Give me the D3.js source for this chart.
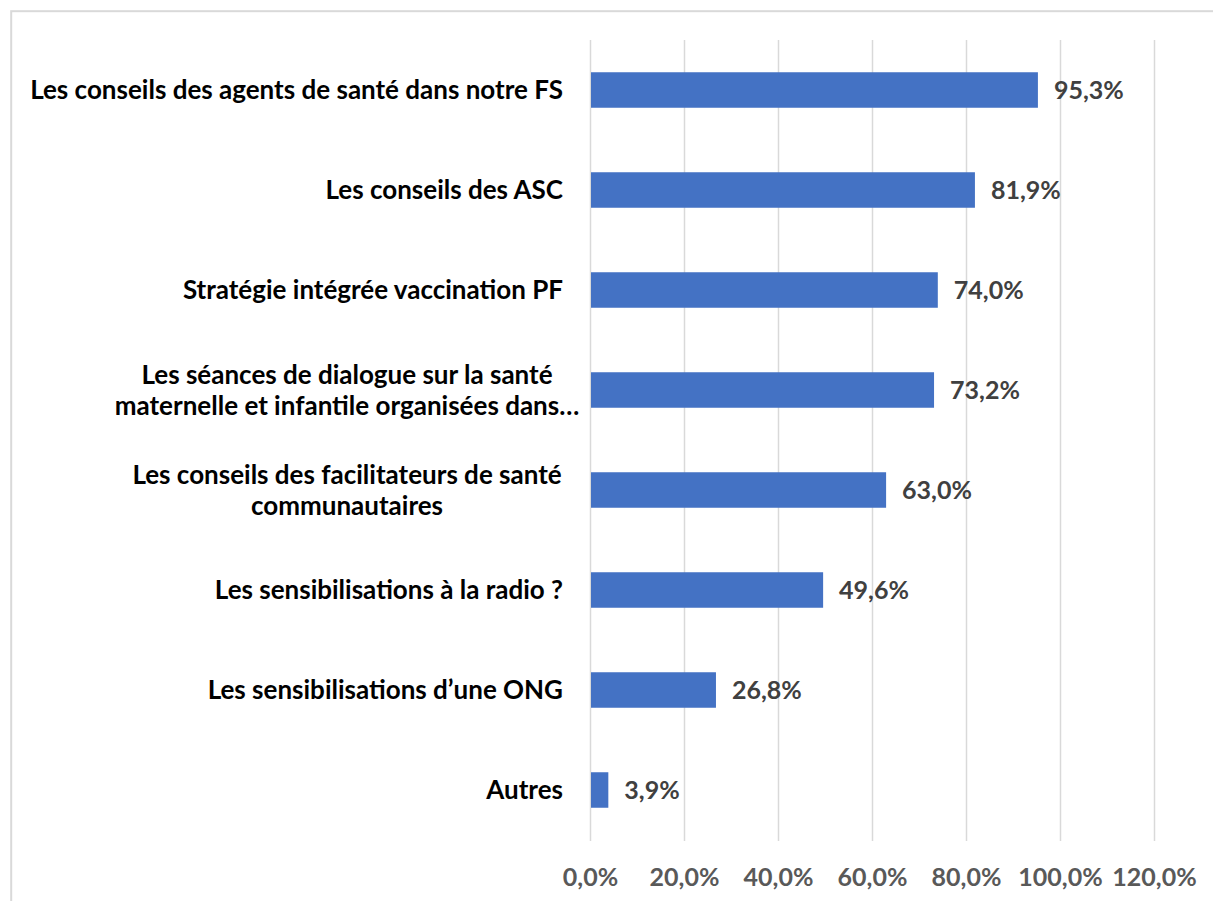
<!DOCTYPE html>
<html>
<head>
<meta charset="utf-8">
<script src="https://cdn.jsdelivr.net/npm/d3@7"></script>
<style>
  body { margin: 0; background: #fff; }
  svg { display: block; font-family: Lato, "Open Sans", sans-serif; }
</style>
</head>
<body>
<script>
// categories (top to bottom) and their percentages
var categories = [
  "Les conseils des agents de santé dans notre FS",
  "Les conseils des ASC",
  "Stratégie intégrée vaccination PF",
  "Les séances de dialogue sur la santé\nmaternelle et infantile organisées dans…",
  "Les conseils des facilitateurs de santé\ncommunautaires",
  "Les sensibilisations à la radio ?",
  "Les sensibilisations d’une ONG",
  "Autres"
];
var values = [95.3, 81.9, 74.0, 73.2, 63.0, 49.6, 26.8, 3.9];
var tickValues = [0, 20, 40, 60, 80, 100, 120];

var W = 1213, H = 901;
var margin = {top: 40, left: 590, right: 59, bottom: 61};
var width = W - margin.left - margin.right;   // 564
var height = H - margin.top - margin.bottom;  // 800
var fontSize = 25, catFontSize = 26;

var fr = d3.formatLocale({decimal: ",", thousands: " ", grouping: [3], currency: ["", " €"]});
var pct = function(d) { return fr.format(".1f")(d) + "%"; };

var svg = d3.select("body").append("svg")
    .attr("width", W)
    .attr("height", H);

// chart frame
svg.append("rect")
    .attr("x", 11.2).attr("y", 11.2)
    .attr("width", W + 20).attr("height", H + 20)
    .attr("fill", "none")
    .attr("stroke", "#d9d9d9")
    .attr("stroke-width", 2);

var g = svg.append("g")
    .attr("transform", "translate(" + margin.left + "," + margin.top + ")");

var xScale = d3.scaleLinear().domain([0, 120]).range([0, width]);
var yScale = d3.scaleBand().domain(categories).range([0, height])
    .paddingInner(0.645).paddingOuter(0.3225);

// vertical gridlines
var grid = g.append("g")
    .attr("class", "grid")
    .attr("transform", "translate(0," + (height + 1) + ")")
    .call(d3.axisBottom(xScale).tickValues(tickValues).tickSize(-(height + 1)).tickFormat(""));
grid.select(".domain").remove();
grid.selectAll("line").attr("stroke", "#d9d9d9").attr("stroke-width", 1.5);

// x axis labels
var xAxis = g.append("g")
    .attr("transform", "translate(0," + height + ")")
    .call(d3.axisBottom(xScale).tickValues(tickValues).tickSize(0).tickPadding(0).tickFormat(pct));
xAxis.select(".domain").remove();
xAxis.selectAll("text")
    .attr("y", 37 + fontSize * 0.36)
    .attr("dy", null)
    .attr("fill", "#595959")
    .style("font-size", fontSize + "px")
    .style("font-weight", "bold")
    .style("font-family", "Lato, sans-serif");

// bars
g.selectAll(".bar")
    .data(values)
  .enter().append("rect")
    .attr("class", "bar")
    .attr("x", xScale(0) + 1)
    .attr("y", function(d, i) { return yScale(categories[i]); })
    .attr("width", function(d) { return xScale(d) - xScale(0) - 1; })
    .attr("height", yScale.bandwidth())
    .attr("fill", "#4472c4");

// value labels
g.selectAll(".val")
    .data(values)
  .enter().append("text")
    .attr("class", "val")
    .attr("x", function(d) { return xScale(d) + 16; })
    .attr("y", function(d, i) { return yScale(categories[i]) + yScale.bandwidth() / 2 + fontSize * 0.36; })
    .attr("fill", "#404040")
    .style("font-size", fontSize + "px")
    .style("font-weight", "bold")
    .text(pct);

// category labels
var labelRight = -27, labelCenter = -243, lineH = 31;
g.selectAll(".cat")
    .data(categories)
  .enter().append("text")
    .attr("class", "cat")
    .attr("fill", "#000")
    .style("font-size", catFontSize + "px")
    .style("font-weight", "bold")
    .each(function(d) {
      var lines = d.split("\n");
      var cy = yScale(d) + yScale.bandwidth() / 2;
      var t = d3.select(this)
          .attr("text-anchor", lines.length > 1 ? "middle" : "end");
      var x = lines.length > 1 ? labelCenter : labelRight;
      lines.forEach(function(line, k) {
        t.append("tspan")
          .attr("x", x)
          .attr("y", cy + catFontSize * 0.36 + (k - (lines.length - 1) / 2) * lineH)
          .text(line);
      });
    });
</script>
</body>
</html>
